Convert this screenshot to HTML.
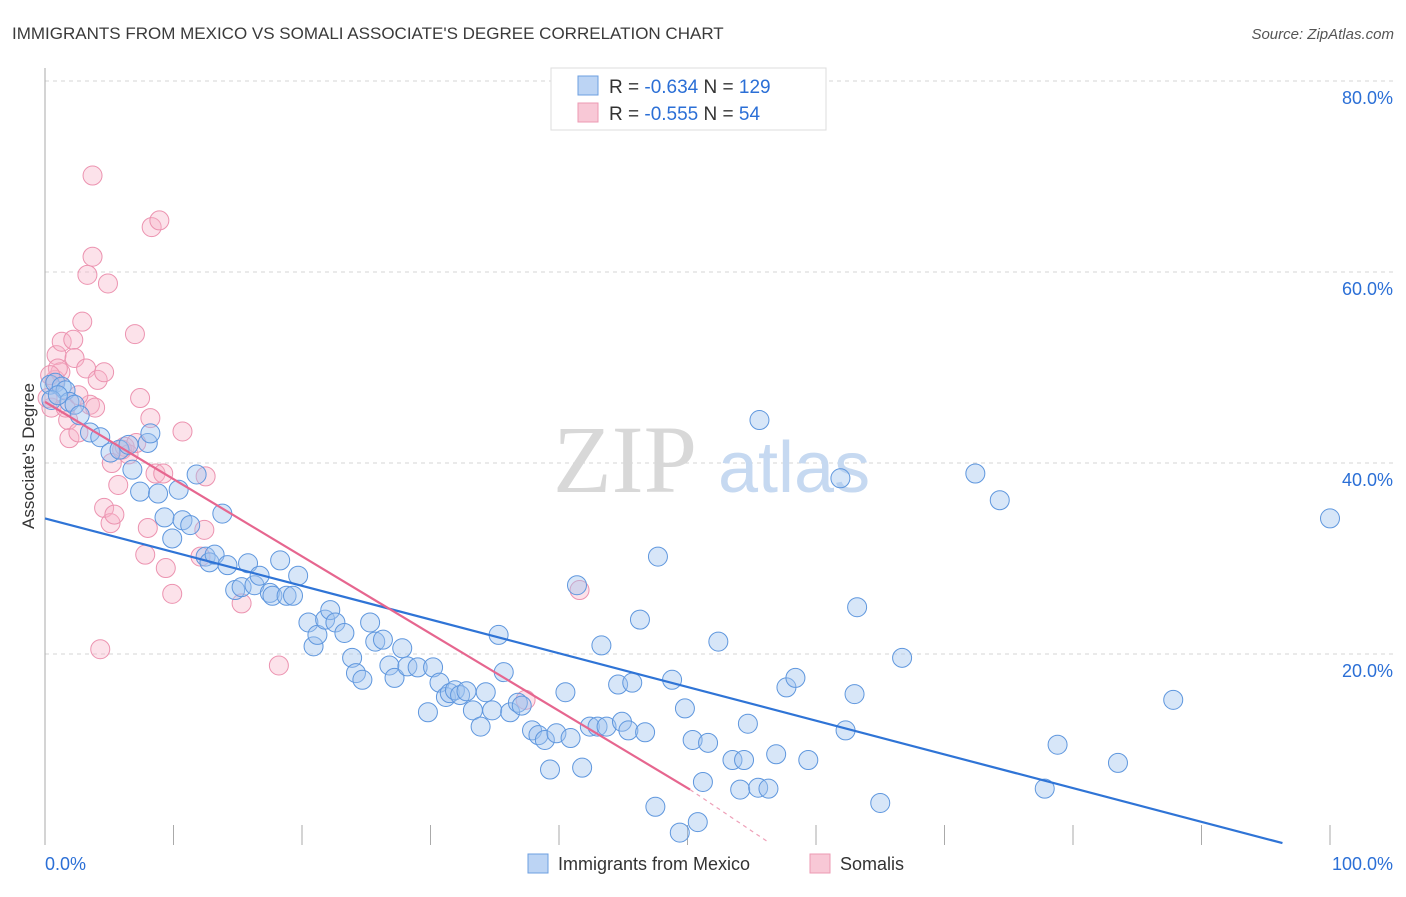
<!DOCTYPE html>
<html><head><meta charset="utf-8"><style>
body{margin:0;background:#fff;font-family:"Liberation Sans",sans-serif;}
svg text{font-family:"Liberation Sans",sans-serif;}
</style></head><body>
<svg id="chart" width="1406" height="892" viewBox="0 0 1406 892" xmlns="http://www.w3.org/2000/svg">
<text x="12" y="39" font-size="17" fill="#3a3a3a">IMMIGRANTS FROM MEXICO VS SOMALI ASSOCIATE'S DEGREE CORRELATION CHART</text>
<text x="1394" y="39" font-size="15" fill="#555" font-style="italic" text-anchor="end">Source: ZipAtlas.com</text>
<g id="grid"></g>
<g id="axes"></g>
<text x="553" y="492" font-size="96" fill="#d8d8d8" font-family="Liberation Serif" style="font-family:'Liberation Serif',serif">ZIP</text>
<text x="718" y="492" font-size="72" fill="#c6d9f1">atlas</text>
<g id="pts"></g>
<g id="lines"></g>
<text transform="translate(34,456) rotate(-90)" font-size="17" fill="#333" text-anchor="middle">Associate's Degree</text>
<g>
<rect x="551" y="68" width="275" height="62" fill="#fff" stroke="#ddd"/>
<rect x="578" y="76" width="20" height="19" fill="#bcd4f4" stroke="#6c9fe0"/>
<text x="609" y="93" font-size="19" fill="#333">R = <tspan fill="#2b6fd6">-0.634</tspan>   N = <tspan fill="#2b6fd6">129</tspan></text>
<rect x="578" y="103" width="20" height="19" fill="#f8c8d6" stroke="#ec9ab3"/>
<text x="609" y="120" font-size="19" fill="#333">R = <tspan fill="#2b6fd6">-0.555</tspan>   N = <tspan fill="#2b6fd6">  54</tspan></text>
</g>
<g>
<rect x="528" y="854" width="20" height="19" fill="#bcd4f4" stroke="#6c9fe0"/>
<text x="558" y="870" font-size="18" fill="#333">Immigrants from Mexico</text>
<rect x="810" y="854" width="20" height="19" fill="#f8c8d6" stroke="#ec9ab3"/>
<text x="840" y="870" font-size="18" fill="#333">Somalis</text>
</g>
</svg>
<script>
const blueX=[0.4,0.8,1.3,1.6,0.5,1.9,1.0,2.3,2.7,3.5,4.3,5.1,5.8,6.5,8.0,8.2,6.8,7.4,8.8,9.3,10.4,9.9,10.7,11.3,11.8,12.5,12.8,13.2,13.8,14.2,14.8,15.3,15.8,16.3,16.7,17.5,17.7,18.3,18.8,19.3,19.7,20.5,20.9,21.2,21.8,22.2,22.6,23.3,23.9,24.2,24.7,25.3,25.7,26.3,26.8,27.2,27.8,28.2,29.0,29.8,30.2,30.7,31.2,31.5,31.9,32.3,32.8,33.3,33.9,34.3,34.8,35.3,35.7,36.2,36.8,37.1,37.9,38.4,38.9,39.3,39.8,40.5,40.9,41.4,41.8,42.4,43.0,43.3,43.7,44.6,44.9,45.4,45.7,46.3,46.7,47.5,47.7,48.8,49.4,49.8,50.4,50.8,51.2,51.6,52.4,53.5,54.1,54.4,54.7,55.5,55.6,56.3,56.9,57.7,58.4,59.4,61.9,62.3,63.0,63.2,65.0,66.7,72.4,74.3,77.8,78.8,83.5,87.8,100.0];
const blueY=[48.2,48.4,48.0,47.6,46.6,46.4,47.1,46.1,45.0,43.2,42.7,41.1,41.4,41.9,42.1,43.1,39.3,37.0,36.8,34.3,37.2,32.1,34.0,33.5,38.8,30.2,29.6,30.4,34.7,29.3,26.7,27.0,29.5,27.2,28.2,26.4,26.1,29.8,26.1,26.1,28.2,23.3,20.8,22.0,23.6,24.6,23.3,22.2,19.6,18.0,17.3,23.3,21.3,21.5,18.8,17.5,20.6,18.7,18.6,13.9,18.6,17.0,15.5,15.9,16.2,15.7,16.1,14.1,12.4,16.0,14.1,22.0,18.1,13.9,14.9,14.6,12.0,11.5,11.0,7.9,11.7,16.0,11.2,27.2,8.1,12.4,12.4,20.9,12.4,16.8,12.9,12.0,17.0,23.6,11.8,4.0,30.2,17.3,1.3,14.3,11.0,2.4,6.6,10.7,21.3,8.9,5.8,8.9,12.7,6.0,44.5,5.9,9.5,16.5,17.5,8.9,38.4,12.0,15.8,24.9,4.4,19.6,38.9,36.1,5.9,10.5,8.6,15.2,34.2];
const pinkX=[0.5,0.2,0.8,0.9,1.2,1.3,1.8,1.9,2.2,2.3,2.6,2.9,3.2,3.3,3.5,3.7,3.7,4.1,4.3,4.6,4.9,5.1,5.2,5.4,5.7,6.0,6.2,7.0,7.4,7.8,8.0,8.2,8.3,8.6,8.9,9.2,9.4,9.9,10.7,12.1,12.4,12.5,15.3,18.2,41.6,37.4,1.6,1.0,2.6,3.9,4.6,6.5,7.1,0.4];
const pinkY=[45.8,46.8,48.7,51.3,49.5,52.7,44.5,42.6,52.9,51.0,43.2,54.8,49.9,59.7,46.1,61.6,70.1,48.7,20.5,35.3,58.8,33.7,40.0,34.6,37.7,41.4,41.7,53.5,46.8,30.4,33.2,44.7,64.7,38.9,65.4,38.9,29.0,26.3,43.3,30.2,33.0,38.6,25.3,18.8,26.7,15.2,45.8,49.9,47.1,45.8,49.5,40.9,42.1,49.2];
const yTicks=[20,40,60,80];
const yTickLabels=["20.0%","40.0%","60.0%","80.0%"];
const xTicks=[0,10,20,30,40,50,60,70,80,90,100];
const blueTrend=[[0,34.2],[96.3,0.2]];
const pinkTrend=[[0,46.4],[50.2,5.8]];
const pinkTrendDash=[[50.2,5.8],[56.4,0.2]];

const X0=45,X1=1330,Y0=845,Y80=81;
const sx=v=>X0+(X1-X0)*v/100;
const sy=v=>Y0-(Y0-Y80)*v/80;
const NS="http://www.w3.org/2000/svg";
function mk(tag,attrs,parent){const e=document.createElementNS(NS,tag);for(const k in attrs)e.setAttribute(k,attrs[k]);parent.appendChild(e);return e;}
const grid=document.getElementById('grid'),axes=document.getElementById('axes'),pts=document.getElementById('pts'),lines=document.getElementById('lines');
yTicks.forEach((t,i)=>{
  const l=mk('line',{x1:X0,x2:1394,y1:sy(t),y2:sy(t),stroke:'#d6d6d6','stroke-dasharray':'4,4'},grid);
  
  
  const tx=mk('text',{x:1393,y:sy(t)+23,'font-size':18,fill:'#2b6fd6','text-anchor':'end'},grid);
  tx.textContent=yTickLabels[i];
  
  
});
const ax=mk('line',{x1:X0,x2:X0,y1:68,y2:Y0,stroke:'#aaa'},axes);


xTicks.forEach(t=>{
  const l=mk('line',{x1:sx(t),x2:sx(t),y1:Y0-20,y2:Y0,stroke:'#aaa'},axes);
  
  
});
const xl0=mk('text',{x:45,y:870,'font-size':18,fill:'#2b6fd6'},axes);xl0.textContent='0.0%';


const xl1=mk('text',{x:1393,y:870,'font-size':18,fill:'#2b6fd6','text-anchor':'end'},axes);xl1.textContent='100.0%';


pinkX.forEach((v,i)=>{
  const c=mk('circle',{cx:sx(v),cy:sy(pinkY[i]),r:9.5,fill:'rgba(246,178,200,0.38)',stroke:'#ec93b0','stroke-width':1},pts);
  
  
});
blueX.forEach((v,i)=>{
  const c=mk('circle',{cx:sx(v),cy:sy(blueY[i]),r:9.5,fill:'rgba(160,196,238,0.42)',stroke:'#5f97de','stroke-width':1},pts);
  
  
});
const bl=mk('line',{x1:sx(blueTrend[0][0]),y1:sy(blueTrend[0][1]),x2:sx(blueTrend[1][0]),y2:sy(blueTrend[1][1]),stroke:'#2f74d6','stroke-width':2.2},lines);


const pl=mk('line',{x1:sx(pinkTrend[0][0]),y1:sy(pinkTrend[0][1]),x2:sx(pinkTrend[1][0]),y2:sy(pinkTrend[1][1]),stroke:'#e6668f','stroke-width':2.2},lines);


const pd=mk('line',{x1:sx(pinkTrendDash[0][0]),y1:sy(pinkTrendDash[0][1]),x2:sx(pinkTrendDash[1][0]),y2:sy(pinkTrendDash[1][1]),stroke:'#eea0b8','stroke-width':1.2,'stroke-dasharray':'4,4'},lines);


</script>
</body></html>
